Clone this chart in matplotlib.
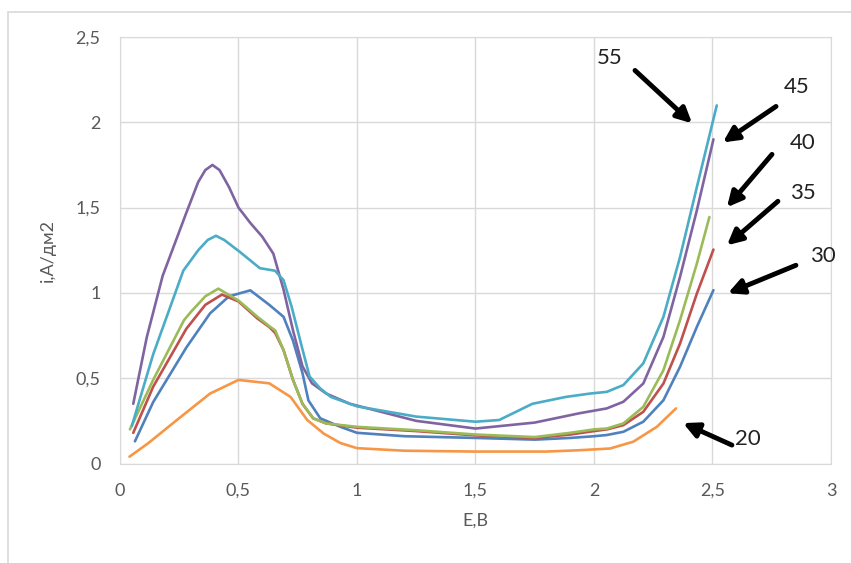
import matplotlib
matplotlib.use("Agg")
import matplotlib.pyplot as plt
from matplotlib.patches import Rectangle

plt.rcParams['font.family'] = ['Lato', 'DejaVu Sans']

# readings: E (V) and i (A/dm2) for each temperature
x20 = [0.04, 0.12, 0.24, 0.38, 0.5, 0.63, 0.72, 0.79, 0.86, 0.93, 1.0, 1.2, 1.5, 1.8, 1.94, 2.068, 2.166, 2.265, 2.346]
y20 = [0.04, 0.12, 0.255, 0.41, 0.49, 0.47, 0.39, 0.255, 0.175, 0.12, 0.09, 0.075, 0.07, 0.07, 0.078, 0.088, 0.128, 0.215, 0.323]

x30 = [0.063, 0.14, 0.28, 0.38, 0.46, 0.55, 0.63, 0.69, 0.73, 0.77, 0.795, 0.845, 0.93, 1.0, 1.2, 1.5, 1.75, 1.9, 2.0, 2.054, 2.124, 2.208, 2.293, 2.363, 2.434, 2.504]
y30 = [0.13, 0.36, 0.68, 0.88, 0.98, 1.015, 0.93, 0.86, 0.72, 0.53, 0.37, 0.265, 0.215, 0.18, 0.16, 0.15, 0.14, 0.15, 0.16, 0.167, 0.186, 0.245, 0.371, 0.567, 0.801, 1.016]

x35 = [0.056, 0.14, 0.28, 0.36, 0.43, 0.5, 0.58, 0.63, 0.655, 0.69, 0.73, 0.77, 0.815, 0.87, 1.0, 1.25, 1.5, 1.75, 1.9, 2.0, 2.054, 2.124, 2.208, 2.293, 2.363, 2.434, 2.504]
y35 = [0.18, 0.45, 0.79, 0.93, 0.99, 0.95, 0.85, 0.80, 0.765, 0.665, 0.49, 0.35, 0.265, 0.235, 0.21, 0.19, 0.165, 0.15, 0.17, 0.19, 0.20, 0.225, 0.303, 0.469, 0.703, 0.996, 1.254]

x40 = [0.042, 0.14, 0.27, 0.30, 0.36, 0.415, 0.5, 0.58, 0.63, 0.655, 0.69, 0.73, 0.77, 0.815, 0.87, 1.0, 1.25, 1.5, 1.75, 1.9, 2.0, 2.054, 2.124, 2.208, 2.293, 2.363, 2.434, 2.487]
y40 = [0.20, 0.49, 0.84, 0.89, 0.98, 1.025, 0.955, 0.86, 0.805, 0.78, 0.665, 0.49, 0.35, 0.265, 0.235, 0.215, 0.195, 0.17, 0.155, 0.18, 0.20, 0.205, 0.235, 0.332, 0.547, 0.84, 1.172, 1.445]

x45 = [0.056, 0.113, 0.18, 0.28, 0.33, 0.36, 0.39, 0.42, 0.46, 0.5, 0.55, 0.6, 0.647, 0.69, 0.73, 0.77, 0.81, 0.87, 0.97, 1.25, 1.5, 1.75, 1.94, 2.054, 2.124, 2.208, 2.293, 2.363, 2.434, 2.504]
y45 = [0.35, 0.74, 1.10, 1.47, 1.65, 1.72, 1.75, 1.72, 1.62, 1.50, 1.41, 1.33, 1.23, 1.02, 0.78, 0.57, 0.47, 0.41, 0.35, 0.25, 0.205, 0.24, 0.295, 0.323, 0.362, 0.469, 0.742, 1.094, 1.484, 1.90]

x55 = [0.05, 0.14, 0.267, 0.33, 0.37, 0.405, 0.44, 0.506, 0.59, 0.654, 0.69, 0.724, 0.767, 0.80, 0.845, 0.89, 1.0, 1.25, 1.5, 1.6, 1.74, 1.88, 1.983, 2.054, 2.124, 2.208, 2.293, 2.363, 2.434, 2.518]
y55 = [0.22, 0.64, 1.13, 1.25, 1.31, 1.335, 1.31, 1.24, 1.145, 1.13, 1.075, 0.92, 0.685, 0.51, 0.44, 0.39, 0.335, 0.275, 0.245, 0.255, 0.35, 0.39, 0.41, 0.42, 0.46, 0.587, 0.86, 1.21, 1.62, 2.099]

labels = ['20', '30', '35', '40', '45', '55']
xticks = [0, 0.5, 1, 1.5, 2, 2.5, 3]
yticks = [0, 0.5, 1, 1.5, 2, 2.5]

series = [(x20, y20, '#F79646'), (x30, y30, '#4F81BD'), (x35, y35, '#C0504D'),
          (x40, y40, '#9BBB59'), (x45, y45, '#8064A2'), (x55, y55, '#4BACC6')]

fig = plt.figure(figsize=(8.51, 5.63), dpi=100)
ax = fig.add_axes([0.141, 0.1767, 0.8355, 0.7576])

# outer chart frame
fig.patches.append(Rectangle((8 / 851, -0.1), 1.2, 1 - 12 / 563 + 0.1, transform=fig.transFigure,
                             fill=False, edgecolor='#d9d9d9', lw=1.2))

for xs, ys, c in series:
    ax.plot(xs, ys, color=c, lw=1.9, solid_joinstyle='round', solid_capstyle='round')

ax.set_xlim(0, 3)
ax.set_ylim(0, 2.5)
ax.set_xticks(xticks)
ax.set_yticks(yticks)
fmt = lambda v: ('%g' % v).replace('.', ',')
ax.set_xticklabels([fmt(v) for v in xticks])
ax.set_yticklabels([fmt(v) for v in yticks])
ax.tick_params(length=0, labelsize=13, colors='#595959')
ax.tick_params(axis='y', pad=14)
ax.tick_params(axis='x', pad=14)
ax.grid(True, color='#d9d9d9', lw=1)
for s in ax.spines.values():
    s.set_color('#d9d9d9')
ax.set_axisbelow(True)

ax.set_xlabel('E,B', fontsize=13, color='#595959', labelpad=10)
ax.set_ylabel('i,A/дм2', fontsize=13, color='#595959', labelpad=14)

# curve labels with arrows: text position, arrow tail, arrow head
notes = [('55', (2.068, 2.374), (2.173, 2.304), (2.414, 1.994)),
         ('45', (2.857, 2.204), (2.768, 2.093), (2.544, 1.882)),
         ('40', (2.882, 1.876), (2.751, 1.812), (2.561, 1.502)),
         ('35', (2.882, 1.584), (2.776, 1.537), (2.561, 1.279)),
         ('30', (2.966, 1.215), (2.852, 1.162), (2.565, 0.998)),
         ('20', (2.650, 0.143), (2.582, 0.108), (2.376, 0.237))]
for t, tp, tail, head in notes:
    ax.annotate('', xy=head, xytext=tail,
                arrowprops=dict(arrowstyle='-|>,head_length=0.9,head_width=0.45',
                                lw=3.5, color='black', shrinkA=0, shrinkB=0))
    ax.text(tp[0], tp[1], t, fontsize=16, color='#222222', ha='center', va='center', clip_on=False)

fig.savefig('out.png', dpi=100)
